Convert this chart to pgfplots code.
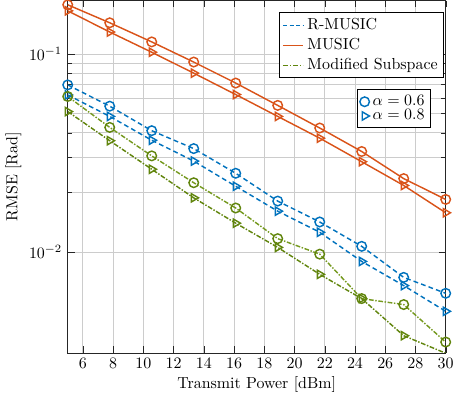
\documentclass[border=0pt]{standalone}
\usepackage{pgfplots}
\pgfplotsset{compat=1.18}
\definecolor{mblue}{rgb}{0,0.447,0.741}
\definecolor{morange}{rgb}{0.85,0.325,0.098}
\definecolor{mgreen}{rgb}{0.38,0.52,0.05}
\definecolor{mgreenl}{rgb}{0.46,0.60,0.12}
\definecolor{axgray}{rgb}{0.15,0.15,0.15}
\begin{document}
\begin{tikzpicture}
\pgfplotsset{
  myaxis/.style={
    width=237pt, height=221pt, scale only axis,
    xmin=5, xmax=30, ymin=0.0031, ymax=0.186,
  }
}
\begin{axis}[myaxis,
  ymode=log,
  xtick={6,8,...,30},
  ytick={0.01,0.1},
  tick align=inside,
  axis line style={axgray},
  tick style={axgray},
  grid=both,
  major grid style={gray!40, line width=0.5pt},
  minor grid style={gray!40, line width=0.5pt},
  minor x tick num=0,
  xlabel={Transmit Power [dBm]},
  ylabel={RMSE [Rad]},
  xlabel style={yshift=2pt},
  ylabel style={yshift=-2pt},
  every axis plot/.append style={line width=0.9pt},
  mark size=3pt,
]
% MUSIC alpha 0.6
\addplot[morange, solid, mark=o, forget plot] coordinates {
(5,0.177) (7.778,0.1436) (10.556,0.115) (13.333,0.091) (16.111,0.0713)
(18.889,0.055) (21.667,0.0423) (24.444,0.0322) (27.222,0.0235) (30,0.01845)};
% MUSIC alpha 0.8
\addplot[morange, solid, mark=triangle, mark options={rotate=-90}, forget plot] coordinates {
(5,0.165) (7.778,0.129) (10.556,0.102) (13.333,0.080) (16.111,0.0624)
(18.889,0.0484) (21.667,0.0376) (24.444,0.0286) (27.222,0.0217) (30,0.0158)};
% R-MUSIC alpha 0.6
\addplot[mblue, densely dashed, mark=o, mark options={solid}, forget plot] coordinates {
(5,0.0698) (7.778,0.0545) (10.556,0.041) (13.333,0.0333) (16.111,0.0250)
(18.889,0.0181) (21.667,0.0142) (24.444,0.0107) (27.222,0.00746) (30,0.0062)};
% R-MUSIC alpha 0.8
\addplot[mblue, densely dashed, mark=triangle, mark options={solid,rotate=-90}, forget plot] coordinates {
(5,0.0621) (7.778,0.0484) (10.556,0.0367) (13.333,0.0288) (16.111,0.0215)
(18.889,0.0161) (21.667,0.0126) (24.444,0.00898) (27.222,0.00678) (30,0.00503)};
% Modified alpha 0.6
\addplot[mgreenl, densely dashdotted, mark=o, mark options={solid,draw=mgreen}, forget plot] coordinates {
(5,0.0610) (7.778,0.0426) (10.556,0.0306) (13.333,0.0224) (16.111,0.0167)
(18.889,0.0117) (21.667,0.00977) (24.444,0.00583) (27.222,0.00544) (30,0.00352)};
% Modified alpha 0.8
\addplot[mgreen, densely dashdotted, mark=triangle, mark options={solid,rotate=-90}, forget plot] coordinates {
(5,0.0512) (7.778,0.0365) (10.556,0.0262) (13.333,0.0188) (16.111,0.0140)
(18.889,0.01057) (21.667,0.00773) (24.444,0.00583) (27.222,0.00379) (30,0.00309)};
\end{axis}
% legend of methods (hidden axis)
\begin{axis}[myaxis, ymode=log, hide axis,
  legend style={at={(0.995,0.966)}, anchor=north east, draw=black, line width=0.6pt, inner sep=1.5pt},
  legend cell align=left,
]
\addlegendimage{legend image code/.code={\draw[draw=mblue, line width=1pt, dash pattern=on 2.5pt off 1.6pt] (0cm,0cm) -- (0.45cm,0cm);}}
\addlegendentry{R-MUSIC}
\addlegendimage{legend image code/.code={\draw[draw=morange, line width=1pt] (0cm,0cm) -- (0.45cm,0cm);}}
\addlegendentry{MUSIC}
\addlegendimage{legend image code/.code={\draw[draw=mgreen, line width=1pt, dash pattern=on 3pt off 1.4pt on 0.6pt off 1.4pt] (0cm,0cm) -- (0.45cm,0cm);}}
\addlegendentry{Modified Subspace}
\end{axis}
% legend of alpha (hidden axis)
\begin{axis}[myaxis, ymode=log, hide axis,
  legend style={at={(0.960,0.748)}, anchor=north east, draw=black, line width=0.6pt, inner sep=1.5pt, row sep=-3pt},
  legend cell align=left,
]
\addlegendimage{legend image code/.code={\draw[draw=mblue, line width=0.9pt] plot[mark=o, mark size=3pt] coordinates {(0.05cm,0cm)};}}
\addlegendentry{$\alpha=0.6$}
\addlegendimage{legend image code/.code={\draw[draw=mblue, line width=0.9pt] plot[mark=triangle, mark size=3pt, mark options={rotate=-90}] coordinates {(0.05cm,0cm)};}}
\addlegendentry{$\alpha=0.8$}
\end{axis}
\end{tikzpicture}
\end{document}
